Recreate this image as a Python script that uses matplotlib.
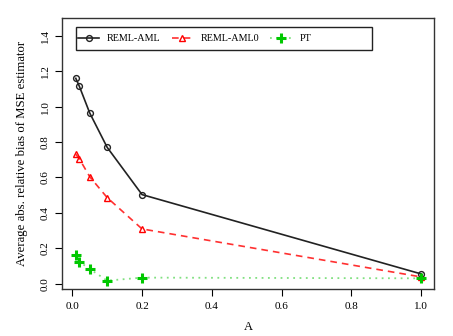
import matplotlib
matplotlib.use("Agg")
import matplotlib.pyplot as plt
from matplotlib.patches import Rectangle

A = [0.01, 0.02, 0.05, 0.1, 0.2, 1.0]
reml_aml = [1.160, 1.116, 0.964, 0.770, 0.503, 0.055]
reml_aml0 = [0.731, 0.706, 0.604, 0.486, 0.309, 0.038]
pt = [0.162, 0.124, 0.083, 0.017, 0.034, 0.030]
xticks = [0.0, 0.2, 0.4, 0.6, 0.8, 1.0]
yticks = [0.0, 0.2, 0.4, 0.6, 0.8, 1.0, 1.2, 1.4]

plt.rcParams['font.family'] = ['Liberation Serif', 'DejaVu Serif']

fig = plt.figure(figsize=(4.53, 3.36), dpi=100)
ax = fig.add_axes([62/453, 1-289.3/336, (434.3-62)/453, (289.3-18.3)/336])

ax.plot(A, reml_aml, color='#222222', ls='-', lw=1.2, marker='o', ms=4.2,
        mfc='none', mec='#222222', mew=1.0, label='REML-AML')
ax.plot(A, reml_aml0, color='#FF3030', ls=(0, (4, 3)), lw=1.2, marker='^', ms=5,
        mfc='none', mec='#FF0000', mew=1.0, label='REML-AML0')
ax.plot(A, pt, color='#80E080', ls=(0, (1, 2.5)), lw=1.3, marker='+', ms=7,
        mec='#00C800', mew=2.2, label='PT')

ax.set_xlim(-0.0295, 1.038)
ax.set_ylim(-0.032, 1.499)
ax.set_xticks(xticks)
ax.set_xticklabels([f"{v:.1f}" for v in xticks], fontsize=8)
ax.set_yticks(yticks)
ax.set_yticklabels([f"{v:.1f}" for v in yticks], fontsize=8, rotation=90, va='center')
ax.tick_params(direction='out', length=5, width=0.8, pad=4)
for s in ax.spines.values():
    s.set_linewidth(1.0)
    s.set_color('#333333')

ax.set_xlabel('A', fontsize=9, labelpad=7.5)
ax.set_ylabel('Average abs. relative bias of MSE estimator', fontsize=9.2, labelpad=9)

leg = ax.legend(loc='center left', bbox_to_anchor=(0.043, 0.9247), ncol=3,
                fontsize=7.3, frameon=False, handlelength=2.1,
                columnspacing=1.1, handletextpad=0.75, borderpad=0, borderaxespad=0)
ax.add_patch(Rectangle((0.0376, 0.883), 0.832 - 0.0376, 0.9668 - 0.883,
                       transform=ax.transAxes, fill=False, ec='#222222', lw=1.0,
                       zorder=5))

fig.savefig('out.png', dpi=100)
